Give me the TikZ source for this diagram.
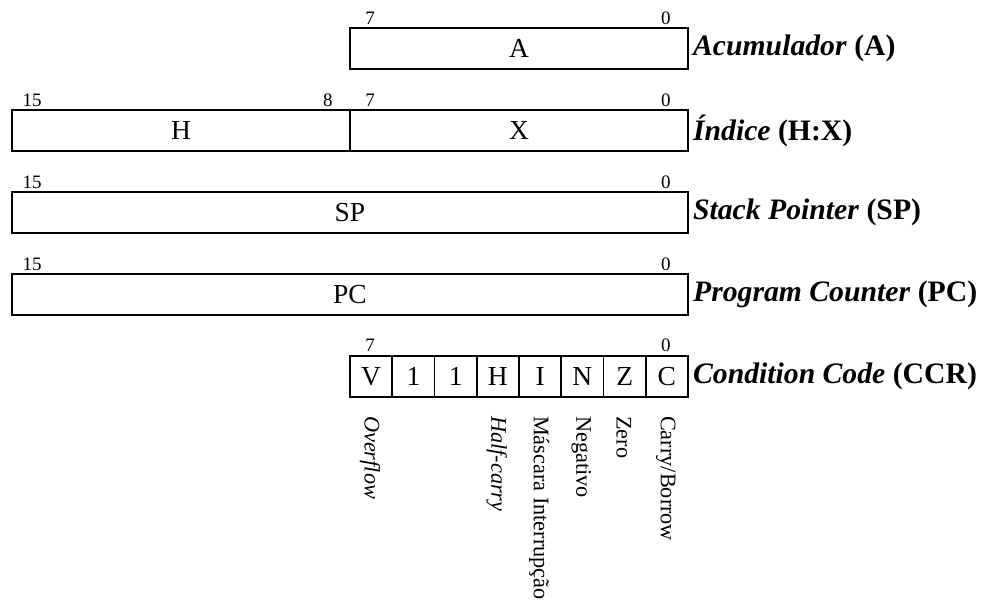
\documentclass[tikz,border=0pt]{standalone}
\usepackage{fontspec}
\setmainfont{Liberation Serif}
\usetikzlibrary{positioning}

\tikzset{
  regbox/.style={
    draw,
    line width=1.3pt,
    minimum height=0.97cm,
    inner sep=0pt,
    anchor=south west,
    font=\fontsize{18.5}{20}\selectfont
  },
  bitnum/.style={anchor=base, inner sep=0pt, font=\fontsize{12.8}{14}\selectfont},
  regname/.style={right=0.02cm of #1, inner sep=2pt, font=\fontsize{20}{24}\selectfont\bfseries},
  flagname/.style={rotate=-90, anchor=west, inner sep=0pt, font=\fontsize{15}{18}\selectfont}
}

\begin{document}
\begin{tikzpicture}
  \useasboundingbox (-0.26,-14.25) rectangle (22.98,0);

  % acumulador
  \begin{scope}[shift={(0,-1.66)}]
    \node[regbox, minimum width=8cm] (A) at (8,0) {A};
    \node[bitnum] (nA7) at (8.5,1.09) {7};
    \node[bitnum] (nA0) at (15.5,1.09) {0};
    \node[regname=A] (lA) {\textit{Acumulador} (A)};
  \end{scope}

  % indice
  \begin{scope}[shift={(0,-3.60)}]
    \node[regbox, minimum width=8cm] (H) at (0,0) {H};
    \node[regbox, minimum width=8cm] (X) at (8,0) {X};
    \node[bitnum] (nH15) at (0.5,1.09) {15};
    \node[bitnum] (nH8) at (7.5,1.09) {8};
    \node[bitnum] (nX7) at (8.5,1.09) {7};
    \node[bitnum] (nX0) at (15.5,1.09) {0};
    \node[regname=X] (lHX) {\textit{Índice} (H:X)};
  \end{scope}

  % stack pointer
  \begin{scope}[shift={(0,-5.54)}]
    \node[regbox, minimum width=16cm] (SP) at (0,0) {SP};
    \node[bitnum] (nSP15) at (0.5,1.09) {15};
    \node[bitnum] (nSP0) at (15.5,1.09) {0};
    \node[regname=SP] (lSP) {\textit{Stack Pointer} (SP)};
  \end{scope}

  % program counter
  \begin{scope}[shift={(0,-7.48)}]
    \node[regbox, minimum width=16cm] (PC) at (0,0) {PC};
    \node[bitnum] (nPC15) at (0.5,1.09) {15};
    \node[bitnum] (nPC0) at (15.5,1.09) {0};
    \node[regname=PC] (lPC) {\textit{Program Counter} (PC)};
  \end{scope}

  % condition code
  \begin{scope}[shift={(0,-9.42)}]
    \foreach \f [count=\i from 0] in {V,1,1,H,I,N,Z,C}
      \node[regbox, minimum width=1cm] (c\i) at (8+\i,0) {\f};
    \node[bitnum] (nC7) at (8.5,1.09) {7};
    \node[bitnum] (nC0) at (15.5,1.09) {0};
    \node[regname=c7] (lCCR) {\textit{Condition Code} (CCR)};

    \node[flagname] (fV) at (8.5,-0.42) {\textit{Overflow}};
    \node[flagname] (fH) at (11.5,-0.42) {\textit{Half-carry}};
    \node[flagname] (fI) at (12.5,-0.42) {Máscara Interrupção};
    \node[flagname] (fN) at (13.5,-0.42) {Negativo};
    \node[flagname] (fZ) at (14.5,-0.42) {Zero};
    \node[flagname] (fC) at (15.5,-0.42) {Carry/Borrow};
  \end{scope}
\end{tikzpicture}
\end{document}
